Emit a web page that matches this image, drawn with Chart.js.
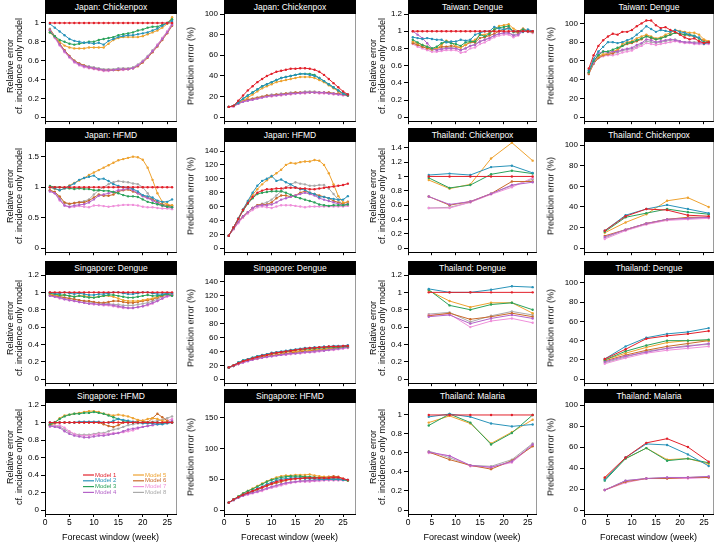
<!DOCTYPE html>
<html>
<head>
<meta charset="utf-8">
<script src="https://cdn.jsdelivr.net/npm/chart.js@4.4.1/dist/chart.umd.min.js"></script>
<style>
  body { margin:0; background:#fff; width:715px; height:544px; position:relative; overflow:hidden;
         font-family:"Liberation Sans", Arial, sans-serif; }
  canvas { position:absolute; }
  .bar { position:absolute; height:14px; background:#000; color:#fff; font-size:8.5px; line-height:14px; text-align:center; white-space:nowrap; }
  .yt { position:absolute; font-size:9px; line-height:9px; text-align:center; white-space:nowrap; color:#000;
        transform:translate(-50%,-50%) rotate(-90deg); }
  .xt { position:absolute; font-size:9px; color:#000; white-space:nowrap; transform:translate(-50%,-50%); }
</style>
</head>
<body>
<script>
// x values
const weeks  = [1,2,3,4,5,6,7,8,9,10,11,12,13,14,15,16,17,18,19,20,21,22,23,24,25,26];
const months = [4.33, 8.67, 13, 17.33, 21.67, 26];

const modelNames = ['Model 1','Model 2','Model 3','Model 4','Model 5','Model 6','Model 7','Model 8'];
const colors = ['#e2212b','#2993b9','#2ba25b','#b463c8','#eea22f','#c96a2b','#ef90da','#aaaaaa'];

// tick labels
const xTicks  = [0,5,10,15,20,25];
const rel02   = [0,0.2,0.4,0.6,0.8,1,1.2,1.4];
const rel05   = [0,0.5,1,1.5];
const pct20   = [0,20,40,60,80,100,120,140];
const pct50   = [0,50,100,150];

// Japan: Chickenpox (Model 1..8)
const jpChickRel = [
  [1,1,1,1,1,1,1,1,1,1,1,1,1,1,1,1,1,1,1,1,1,1,1,1,1,1],
  [0.99,0.95,0.91,0.87,0.83,0.81,0.80,0.79,0.79,0.78,0.79,0.77,0.81,0.83,0.85,0.86,0.87,0.87,0.88,0.89,0.90,0.92,0.94,0.97,1.00,1.02],
  [0.90,0.86,0.82,0.80,0.78,0.77,0.78,0.79,0.80,0.80,0.82,0.83,0.84,0.85,0.87,0.88,0.89,0.90,0.92,0.93,0.95,0.96,0.96,0.98,1.00,1.04],
  [0.92,0.85,0.77,0.70,0.64,0.59,0.56,0.54,0.53,0.52,0.51,0.50,0.50,0.50,0.51,0.51,0.51,0.52,0.55,0.59,0.64,0.70,0.76,0.83,0.90,0.98],
  [0.90,0.85,0.80,0.76,0.74,0.73,0.73,0.73,0.74,0.74,0.74,0.74,0.78,0.82,0.84,0.85,0.85,0.85,0.85,0.86,0.88,0.90,0.92,0.95,0.99,1.06],
  [0.93,0.86,0.78,0.71,0.65,0.60,0.57,0.55,0.53,0.52,0.51,0.50,0.50,0.50,0.50,0.51,0.51,0.52,0.54,0.58,0.63,0.69,0.75,0.82,0.89,0.97],
  [0.92,0.84,0.76,0.69,0.63,0.58,0.55,0.53,0.52,0.51,0.50,0.49,0.49,0.50,0.50,0.50,0.51,0.52,0.55,0.59,0.64,0.70,0.77,0.84,0.91,0.99],
  [0.94,0.86,0.78,0.71,0.65,0.60,0.57,0.55,0.54,0.53,0.52,0.51,0.51,0.51,0.52,0.52,0.52,0.53,0.56,0.60,0.65,0.71,0.77,0.84,0.91,1.00]
];
const jpChickErr = [
  [10,11,16,21,26,30,34,37,40,42,44,45,46,47,47,47.5,47.5,47,46,44,41,37,33,29,25,22],
  [10,11,14,18,21,24,27,30,32,34,36,38,39,40,41,42,42,41,40,38,35,32,29,26,23,22],
  [10,11,15,18,21,24,27,30,32,34,36,38,39,40,41,42,42,42,41,38,35,32,29,26,23,21],
  [10,11,13,15,16,17,18,19,20,21,21,22,22,23,23,23.5,24,24,24,24,24,23,23,22,22,21],
  [10,11,13,16,19,22,25,28,30,32,34,35,36,37,38,39,39,39,38,36,34,31,28,25,23,22],
  [10,11,14,16,17,18,19,20,21,21,22,22,23,23,24,24,24,24,24,24,24,24,23,23,22,21],
  [10,10,13,15,16,17,18,19,20,20,21,21,22,22,23,23,23,24,24,23,23,23,22,22,21,21],
  [10,11,14,16,17,18,19,20,21,22,22,23,23,24,24,24,25,25,25,24,24,24,23,23,22,21]
];

// Taiwan: Dengue
const twDengRel = [
  [1,1,1,1,1,1,1,1,1,1,1,1,1,1,1,1,1,1,1,1,1,1,1,1,1,1],
  [0.93,0.92,0.91,0.92,0.91,0.90,0.90,0.87,0.88,0.88,0.90,0.89,0.90,0.96,0.98,1.00,1.00,1.05,1.03,1.02,1.03,1.00,1.00,0.99,1.02,1.00],
  [0.90,0.87,0.84,0.82,0.80,0.82,0.86,0.88,0.86,0.85,0.83,0.87,0.88,0.88,0.96,0.94,0.97,1.02,1.04,1.05,1.06,0.99,1.00,1.02,1.00,1.00],
  [1.00,0.96,0.92,0.86,0.80,0.78,0.79,0.80,0.80,0.80,0.78,0.80,0.83,0.84,0.88,0.90,0.92,0.95,0.97,0.98,0.98,0.95,0.96,1.02,1.00,1.00],
  [0.88,0.86,0.84,0.82,0.79,0.80,0.84,0.89,0.87,0.82,0.81,0.84,0.88,0.90,0.96,0.96,0.98,1.02,1.06,1.07,1.08,1.03,1.00,1.03,1.00,0.99],
  [0.86,0.84,0.82,0.80,0.79,0.80,0.82,0.82,0.83,0.82,0.81,0.84,0.87,0.87,0.92,0.93,0.95,0.97,1.00,1.02,1.04,1.00,0.98,1.03,1.00,0.99],
  [0.85,0.82,0.80,0.78,0.76,0.76,0.77,0.78,0.78,0.78,0.75,0.76,0.80,0.81,0.85,0.87,0.90,0.93,0.95,0.96,0.96,0.93,0.95,1.00,0.99,0.98],
  [0.87,0.84,0.82,0.80,0.78,0.79,0.80,0.81,0.81,0.80,0.78,0.80,0.83,0.85,0.88,0.90,0.92,0.95,0.97,0.98,0.98,0.96,0.97,1.01,1.00,0.99]
];
const twDengErr = [
  [52,66,76,82,86,89,88,91,91,93,97,100,103,103,98,95,96,93,91,88,85,83,84,81,79,80],
  [50,62,70,75,80,80,79,80,82,84,88,92,97,94,91,93,92,91,93,91,90,88,86,85,78,80],
  [48,60,66,70,70,72,74,76,79,80,82,84,86,85,83,84,86,88,90,89,88,88,87,84,80,80],
  [48,58,68,70,69,70,70,72,73,74,77,79,83,82,80,81,82,83,82,81,80,80,79,79,79,79],
  [47,58,65,67,68,70,72,78,80,81,84,86,88,86,84,85,88,90,93,92,91,90,90,88,83,81],
  [46,57,63,66,67,68,71,76,78,79,81,83,87,84,83,84,86,88,90,89,88,87,86,84,82,80],
  [46,57,63,65,66,66,67,69,70,71,74,76,79,78,77,78,79,80,81,80,79,79,78,78,78,78],
  [47,58,64,67,67,68,69,71,72,73,75,78,81,80,79,80,81,82,83,81,80,80,80,80,79,81]
];

// Japan: HFMD
const jpHfmdRel = [
  [1,1,1,1,1,1,1,1,1,1,1,1,1,1,1,1,1,1,1,1,1,1,1,1,1,1],
  [1.00,0.98,0.95,0.98,1.02,1.06,1.12,1.15,1.17,1.19,1.13,1.14,1.10,1.05,1.02,1.00,1.00,0.97,0.93,0.87,0.85,0.83,0.78,0.76,0.76,0.80],
  [1.02,1.00,1.00,0.99,0.98,0.97,0.98,0.97,0.97,0.95,0.95,0.94,0.94,0.92,0.90,0.87,0.85,0.85,0.84,0.80,0.76,0.74,0.72,0.70,0.68,0.67],
  [0.93,0.90,0.80,0.70,0.68,0.70,0.71,0.72,0.75,0.80,0.86,0.88,0.90,0.92,0.95,0.96,0.98,0.95,0.90,0.85,0.82,0.78,0.74,0.70,0.68,0.67],
  [1.00,0.97,0.95,0.98,1.03,1.07,1.11,1.15,1.20,1.24,1.28,1.32,1.36,1.40,1.44,1.46,1.48,1.50,1.49,1.45,1.32,1.12,0.90,0.76,0.72,0.70],
  [0.95,0.92,0.85,0.75,0.73,0.74,0.75,0.75,0.78,0.83,0.88,0.86,0.86,0.88,0.93,0.95,0.96,0.93,0.90,0.86,0.83,0.80,0.76,0.72,0.70,0.70],
  [0.95,0.90,0.78,0.70,0.67,0.68,0.69,0.68,0.67,0.70,0.70,0.69,0.68,0.69,0.70,0.71,0.71,0.71,0.70,0.68,0.67,0.67,0.66,0.65,0.65,0.64],
  [0.95,0.92,0.82,0.74,0.72,0.74,0.76,0.77,0.80,0.88,0.95,1.00,1.05,1.08,1.10,1.09,1.08,1.06,1.05,1.00,0.90,0.80,0.72,0.70,0.68,0.68]
];
const jpHfmdErr = [
  [18,30,42,55,65,74,80,83,85,85,86,86,87,87,87,86,86,85,85,86,87,88,89,90,91,93],
  [18,30,43,56,68,80,90,97,100,104,97,99,95,92,88,85,84,80,78,74,74,72,71,70,70,75],
  [18,30,42,54,64,72,78,80,81,82,82,82,80,77,74,72,70,68,66,63,62,61,62,62,62,63],
  [18,28,38,46,52,58,61,62,62,63,66,70,72,74,76,78,80,78,76,72,70,68,66,64,62,64],
  [18,30,43,56,67,77,85,92,98,103,108,113,120,123,122,124,125,125,127,126,120,108,92,75,66,66],
  [18,28,38,46,52,58,62,63,63,66,72,76,76,74,76,80,82,80,78,76,74,72,68,66,64,67],
  [18,27,36,44,50,55,59,60,59,58,60,62,62,62,61,60,59,60,60,60,60,60,60,60,60,61],
  [18,28,38,46,52,58,62,64,66,70,76,82,88,92,95,93,92,90,90,91,91,86,78,70,62,62]
];

// Thailand: Chickenpox
const thChickRel = [
  [1,1,1,1,1,1],
  [1.02,1.04,1.02,1.13,1.15,1.05],
  [0.98,0.84,0.88,1.03,1.08,1.04],
  [0.72,0.61,0.65,0.76,0.88,0.92],
  [0.95,0.83,0.89,1.25,1.47,1.22],
  [0.72,0.60,0.65,0.76,0.93,0.93],
  [0.56,0.56,0.64,0.75,0.85,0.98],
  [0.56,0.57,0.64,0.76,0.87,0.96]
];
const thChickErr = [
  [17,31,38,37,32,31],
  [17,32,38,42,38,34],
  [16,30,34,38,35,33],
  [11,18,24,28,29,30],
  [15,25,33,46,49,40],
  [12,18,24,28,30,30],
  [9,17,23,27,28,29],
  [10,18,24,28,29,30]
];

// Singapore: Dengue
const sgDengRel = [
  [1,1,1,1,1,1,1,1,1,1,1,1,1,1,1,1,1,1,1,1,1,1,1,1,1,1],
  [1.00,0.99,0.99,1.00,0.99,0.98,0.99,0.98,0.97,0.97,0.98,0.98,0.99,1.00,1.00,0.99,0.98,0.98,0.99,1.00,1.00,0.99,0.98,0.98,0.99,0.99],
  [0.99,0.98,0.97,0.97,0.96,0.95,0.96,0.95,0.94,0.94,0.95,0.96,0.97,0.97,0.96,0.95,0.94,0.94,0.95,0.96,0.97,0.96,0.96,0.97,0.98,0.96],
  [0.96,0.95,0.94,0.92,0.91,0.90,0.89,0.88,0.87,0.87,0.86,0.86,0.86,0.85,0.84,0.83,0.82,0.82,0.83,0.84,0.86,0.88,0.90,0.93,0.96,0.97],
  [0.98,0.97,0.96,0.97,0.96,0.95,0.96,0.96,0.95,0.94,0.95,0.96,0.96,0.95,0.93,0.91,0.90,0.90,0.90,0.91,0.92,0.93,0.95,0.97,0.98,0.97],
  [0.97,0.96,0.95,0.94,0.93,0.92,0.91,0.90,0.90,0.89,0.88,0.88,0.89,0.90,0.90,0.89,0.88,0.88,0.89,0.90,0.91,0.92,0.94,0.96,0.98,0.97],
  [0.96,0.95,0.93,0.92,0.91,0.90,0.89,0.88,0.87,0.86,0.86,0.85,0.85,0.84,0.83,0.82,0.82,0.82,0.83,0.84,0.85,0.87,0.90,0.93,0.95,0.96],
  [0.97,0.96,0.95,0.94,0.93,0.92,0.91,0.90,0.89,0.88,0.88,0.87,0.87,0.86,0.86,0.85,0.85,0.85,0.86,0.87,0.88,0.90,0.92,0.95,0.97,0.98]
];
const sgDengErr = [
  [17,20,23,26,28,30,32,34,35,37,38,39,40,41,42,43,44,45,45,46,46,47,47,47,48,48],
  [17,20,24,27,29,31,33,35,36,38,39,40,41,42,43,44,45,45,46,46,47,47,48,48,48,49],
  [17,20,24,27,29,31,33,34,36,37,38,39,40,41,42,43,43,44,44,45,45,46,46,46,47,47],
  [17,19,22,24,26,28,30,31,32,33,34,35,36,37,37,38,39,39,40,41,41,42,43,44,45,46],
  [17,20,23,26,28,30,32,33,35,36,37,38,39,40,40,41,42,42,43,43,44,45,45,46,46,47],
  [17,19,22,25,27,29,30,32,33,34,35,36,37,38,39,40,40,41,42,42,43,44,44,45,46,46],
  [17,19,22,24,26,28,29,31,32,33,34,35,35,36,37,37,38,39,39,40,41,42,42,43,44,45],
  [17,19,22,25,27,29,30,32,33,34,35,36,37,37,38,39,40,40,41,42,42,43,44,45,46,47]
];

// Thailand: Dengue
const thDengRel = [
  [1,1,1,1,1,1],
  [1.04,1.00,1.00,1.03,1.07,1.06],
  [1.03,0.85,0.80,0.86,0.88,0.80],
  [0.72,0.74,0.64,0.70,0.74,0.70],
  [1.02,0.90,0.83,0.88,0.88,0.76],
  [0.73,0.76,0.69,0.72,0.76,0.72],
  [0.74,0.75,0.60,0.67,0.70,0.65],
  [0.75,0.77,0.66,0.73,0.78,0.74]
];
const thDengErr = [
  [21,31,42,45,47,50],
  [21,34,43,47,49,53],
  [20,29,35,40,40,41],
  [18,24,28,32,34,37],
  [20,27,33,38,40,40],
  [19,25,30,34,37,40],
  [16,22,27,30,32,34],
  [17,23,29,32,35,36]
];

// Singapore: HFMD
const sgHfmdRel = [
  [1,1,1,1,1,1,1,1,1,1,1,1,1,1,1,1,1,1,1,1,1,1,1,1,1,1],
  [1.00,1.00,1.00,1.00,1.00,1.00,1.01,1.01,1.01,1.01,1.01,1.00,1.00,1.02,1.04,1.03,1.02,1.01,1.00,0.99,0.99,0.99,0.98,0.98,0.99,1.00],
  [0.98,1.00,1.04,1.07,1.09,1.10,1.10,1.11,1.11,1.12,1.11,1.10,1.08,1.06,1.04,1.02,1.01,1.00,1.00,1.00,1.00,1.00,1.00,0.99,1.00,1.00],
  [0.96,0.95,0.94,0.90,0.87,0.85,0.84,0.83,0.83,0.84,0.85,0.85,0.86,0.87,0.88,0.90,0.92,0.93,0.94,0.95,0.96,0.97,0.98,0.99,1.00,1.02],
  [0.98,1.00,1.05,1.08,1.09,1.10,1.11,1.12,1.13,1.13,1.12,1.10,1.09,1.08,1.09,1.08,1.07,1.05,1.03,1.02,1.04,1.05,1.04,1.02,1.01,1.01],
  [0.97,0.99,1.00,1.00,1.00,1.00,1.00,1.00,1.00,1.00,1.00,0.98,0.96,0.95,0.97,1.00,1.00,1.00,1.02,1.02,1.00,1.05,1.10,1.06,1.02,1.00],
  [0.95,0.96,0.97,0.94,0.90,0.87,0.85,0.85,0.85,0.86,0.87,0.87,0.87,0.88,0.88,0.89,0.90,0.91,0.93,0.95,0.96,0.97,0.99,1.00,1.02,1.04],
  [0.97,0.96,0.95,0.92,0.89,0.87,0.86,0.86,0.86,0.87,0.88,0.88,0.90,0.92,0.93,0.95,0.97,0.98,0.99,1.00,1.00,1.01,1.02,1.03,1.05,1.07]
];
const sgHfmdErr = [
  [12,17,21,25,28,31,34,37,40,43,46,48,49,50,51,51,52,52,52,52,52,52,53,53,51,49],
  [12,17,21,25,28,31,35,38,42,45,48,50,51,52,52,52,51,51,51,50,50,50,50,50,49,49],
  [12,17,22,27,31,34,38,42,46,49,51,53,54,55,55,55,54,54,53,52,52,51,50,50,49,48],
  [12,16,20,23,26,28,30,33,35,38,40,42,44,45,46,47,47,48,48,49,49,50,50,50,50,49],
  [12,17,22,27,31,35,39,43,47,50,53,55,56,56,57,57,57,58,56,55,54,53,52,51,50,48],
  [12,17,21,24,27,30,33,36,39,42,44,46,48,50,51,52,53,53,53,53,53,54,55,54,51,48],
  [12,16,20,23,25,27,29,31,34,36,38,40,42,44,45,46,46,46,47,47,48,48,48,48,48,48],
  [12,16,20,23,26,28,30,32,35,37,39,42,44,45,46,47,48,48,49,49,50,50,50,50,50,49]
];

// Thailand: Malaria
const thMalRel = [
  [1,1,1,1,1,1],
  [0.98,1.01,0.98,0.91,0.88,0.90],
  [0.89,1.01,0.92,0.69,0.81,1.00],
  [0.61,0.57,0.47,0.45,0.51,0.69],
  [0.92,0.99,0.91,0.70,0.82,0.95],
  [0.61,0.53,0.47,0.43,0.52,0.67],
  [0.60,0.57,0.46,0.45,0.50,0.68],
  [0.62,0.55,0.47,0.46,0.53,0.70]
];
const thMalErr = [
  [31,50,64,68,60,46],
  [29,50,63,62,53,42],
  [28,49,59,47,49,45],
  [19,28,30,31,31,32],
  [30,49,59,48,49,44],
  [19,27,30,30,31,31],
  [19,26,30,30,30,31],
  [19,28,30,31,31,32]
];

// layout (page pixels)
const colLeft  = [45, 224, 408, 584];
const colRight = [176, 355, 536, 713];
const xMax     = [26.8, 27.5, 26.7, 26.9];
const titleTop = [0, 128, 261, 389];
const zeroY    = [118, 249, 380, 510];
const GAP = 4, YW = 40, PADT = 8, PADR = 4;
const FONT = '"Liberation Sans", Arial, sans-serif';

const REL = ['Relative error', 'cf. incidence only model'];
const PCT = ['Prediction error (%)'];

const panels = [
  { title:'Japan: Chickenpox',    row:0, col:0, x:weeks,  data:jpChickRel, max:1.095, ticks:rel02, ylab:REL },
  { title:'Japan: Chickenpox',    row:0, col:1, x:weeks,  data:jpChickErr, max:100,   ticks:pct20, ylab:PCT },
  { title:'Taiwan: Dengue',       row:0, col:2, x:weeks,  data:twDengRel,  max:1.2,   ticks:rel02, ylab:REL },
  { title:'Taiwan: Dengue',       row:0, col:3, x:weeks,  data:twDengErr,  max:110,   ticks:pct20, ylab:PCT },
  { title:'Japan: HFMD',          row:1, col:0, x:weeks,  data:jpHfmdRel,  max:1.74,  ticks:rel05, ylab:REL },
  { title:'Japan: HFMD',          row:1, col:1, x:weeks,  data:jpHfmdErr,  max:153,   ticks:pct20, ylab:PCT },
  { title:'Thailand: Chickenpox', row:1, col:2, x:months, data:thChickRel, max:1.48,  ticks:rel02, ylab:REL },
  { title:'Thailand: Chickenpox', row:1, col:3, x:months, data:thChickErr, max:103,   ticks:pct20, ylab:PCT },
  { title:'Singapore: Dengue',    row:2, col:0, x:weeks,  data:sgDengRel,  max:1.2,   ticks:rel02, ylab:REL },
  { title:'Singapore: Dengue',    row:2, col:1, x:weeks,  data:sgDengErr,  max:150,   ticks:pct20, ylab:PCT },
  { title:'Thailand: Dengue',     row:2, col:2, x:months, data:thDengRel,  max:1.2,   ticks:rel02, ylab:REL },
  { title:'Thailand: Dengue',     row:2, col:3, x:months, data:thDengErr,  max:108,   ticks:pct20, ylab:PCT },
  { title:'Singapore: HFMD',      row:3, col:0, x:weeks,  data:sgHfmdRel,  max:1.223, ticks:rel02, ylab:REL, legend:true },
  { title:'Singapore: HFMD',      row:3, col:1, x:weeks,  data:sgHfmdErr,  max:174,   ticks:pct50, ylab:PCT },
  { title:'Thailand: Malaria',    row:3, col:2, x:months, data:thMalRel,   max:1.126, ticks:rel02, ylab:REL },
  { title:'Thailand: Malaria',    row:3, col:3, x:months, data:thMalErr,   max:102,   ticks:pct20, ylab:PCT }
];

// gray right edge of each panel
const frame = {
  id: 'frame',
  afterDraw(chart) {
    const a = chart.chartArea, ctx = chart.ctx;
    ctx.save();
    ctx.strokeStyle = '#9a9a9a';
    ctx.lineWidth = 1;
    ctx.beginPath();
    ctx.moveTo(a.right + 0.5, a.top);
    ctx.lineTo(a.right + 0.5, a.bottom);
    ctx.stroke();
    ctx.restore();
  }
};

// two-column legend in the Singapore HFMD panel
const legendBox = {
  id: 'legendBox',
  afterDraw(chart) {
    const a = chart.chartArea, ctx = chart.ctx;
    const x0 = a.left + 38, y0 = a.top + 72;
    ctx.save();
    ctx.font = '6px ' + FONT;
    ctx.textBaseline = 'middle';
    modelNames.forEach((name, i) => {
      const cx = x0 + Math.floor(i / 4) * 50;
      const cy = y0 + (i % 4) * 5.8;
      ctx.strokeStyle = colors[i];
      ctx.lineWidth = 1.2;
      ctx.beginPath();
      ctx.moveTo(cx, cy); ctx.lineTo(cx + 11, cy);
      ctx.stroke();
      ctx.fillStyle = colors[i];
      ctx.fillText(name, cx + 12, cy);
    });
    ctx.restore();
  }
};

function fmt(v) { return String(Math.round(v * 100) / 100); }

panels.forEach(p => {
  const L = colLeft[p.col], R = colRight[p.col];
  const T = titleTop[p.row] + 14, Z = zeroY[p.row], B = Z + GAP;
  const bottomRow = p.row === 3;
  const XH = bottomRow ? 20 : 6;

  const cv = document.createElement('canvas');
  const w = YW + (R - L) + PADR, h = PADT + (B - T) + XH;
  cv.width = w; cv.height = h;
  cv.style.width = w + 'px'; cv.style.height = h + 'px';
  cv.style.left = (L - YW) + 'px'; cv.style.top = (T - PADT) + 'px';
  document.body.appendChild(cv);

  const bar = document.createElement('div');
  bar.className = 'bar';
  bar.style.left = L + 'px'; bar.style.width = (R - L + 1) + 'px';
  bar.style.top = titleTop[p.row] + 'px';
  bar.textContent = p.title;
  document.body.appendChild(bar);

  const yt = document.createElement('div');
  yt.className = 'yt';
  const yx = p.ylab.length > 1 ? L - 30 : L - 33;
  yt.style.left = yx + 'px'; yt.style.top = ((T + Z) / 2) + 'px';
  yt.innerHTML = p.ylab.join('<br>');
  document.body.appendChild(yt);

  if (bottomRow) {
    const xt = document.createElement('div');
    xt.className = 'xt';
    xt.style.left = ((L + R) / 2) + 'px'; xt.style.top = '537px';
    xt.textContent = 'Forecast window (week)';
    document.body.appendChild(xt);
  }

  const yMin = -GAP * p.max / (Z - T);
  const yVals = p.ticks.filter(v => v <= p.max + 1e-9);

  new Chart(cv, {
    type: 'line',
    data: {
      datasets: p.data.map((vals, k) => ({
        label: modelNames[k],
        data: vals.map((v, j) => ({ x: p.x[j], y: v })),
        borderColor: colors[k],
        backgroundColor: colors[k],
        borderWidth: 1,
        pointRadius: 1.2,
        pointBorderWidth: 0,
        tension: 0
      }))
    },
    options: {
      responsive: false,
      animation: false,
      devicePixelRatio: 1,
      layout: { padding: { top: PADT, right: PADR, left: 0, bottom: 0 } },
      plugins: { legend: { display: false }, tooltip: { enabled: false } },
      scales: {
        x: {
          type: 'linear', min: 0, max: xMax[p.col],
          afterBuildTicks: s => { s.ticks = xTicks.map(v => ({ value: v })); },
          afterFit: s => { s.height = XH; },
          grid: { drawOnChartArea: false, tickLength: 3, color: '#000' },
          border: { color: '#000', width: 1 },
          ticks: { display: bottomRow, padding: 1, color: '#000', maxRotation: 0,
                   font: { size: 8.5, family: FONT } }
        },
        y: {
          min: yMin, max: p.max,
          afterBuildTicks: s => { s.ticks = yVals.map(v => ({ value: v })); },
          afterFit: s => { s.width = YW; },
          grid: { drawOnChartArea: false, tickLength: 4, color: '#000' },
          border: { color: '#000', width: 1 },
          ticks: { padding: 2, color: '#000', font: { size: 8, family: FONT }, callback: v => fmt(v) }
        }
      }
    },
    plugins: p.legend ? [frame, legendBox] : [frame]
  });
});
</script>
</body>
</html>
